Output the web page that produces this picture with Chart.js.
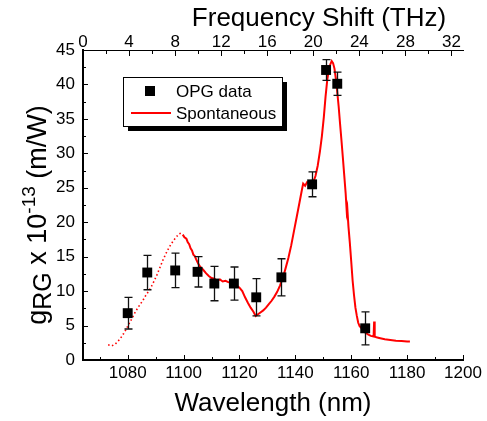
<!DOCTYPE html>
<html>
<head>
<meta charset="utf-8">
<script src="https://cdn.jsdelivr.net/npm/chart.js@4/dist/chart.umd.min.js"></script>
<style>
  html, body { margin: 0; padding: 0; background: #fff; }
  canvas { display: block; }
</style>
</head>
<body>
<canvas id="gainChart" width="487" height="421"></canvas>
<script>
// OPG measurements (wavelength in nm, gain x 1e-13 m/W, +/- error)
const opgWavelength = [1080, 1087, 1097, 1105, 1111, 1118, 1126, 1135, 1146, 1151, 1155, 1165];
const opgGain       = [6.8, 12.7, 13.0, 12.8, 11.1, 11.1, 9.1, 12.0, 25.5, 42.1, 40.1, 4.6];
const opgError      = [2.3, 2.5, 2.5, 2.2, 2.5, 2.4, 2.7, 2.7, 1.8, 1.5, 1.7, 2.4];

// spontaneous Raman gain curve
const spontWavelength = [
  1073.0, 1074.3, 1075.5, 1076.5, 1077.5, 1078.5, 1079.5, 1080.5, 1081.5, 1082.5,
  1083.5, 1084.5, 1085.5, 1086.5, 1087.5, 1088.5, 1089.5, 1090.5, 1091.5, 1092.5,
  1093.5, 1094.5, 1095.5, 1096.5, 1097.5, 1098.3, 1099.0, 1099.7, 1100.3, 1101.0,
  1101.5, 1102.0, 1102.5, 1103.0, 1103.5, 1104.0, 1104.5, 1105.0, 1105.5, 1106.0,
  1107.0, 1108.0, 1109.0, 1110.0, 1111.0, 1112.0, 1113.0, 1114.0, 1115.0, 1116.0,
  1117.0, 1118.0, 1119.0, 1120.0, 1121.0, 1122.0, 1123.0, 1124.0, 1125.0, 1125.8,
  1126.5, 1127.5, 1128.5, 1129.5, 1130.5, 1131.5, 1132.5, 1133.5, 1134.5, 1135.5,
  1136.5, 1137.5, 1138.5, 1139.5, 1140.5, 1141.5, 1142.3, 1142.8, 1143.5, 1144.2,
  1145.0, 1145.8, 1146.5, 1147.2, 1148.0, 1148.8, 1149.5, 1150.2, 1150.8, 1151.4,
  1152.0, 1152.5, 1153.0, 1153.5, 1154.0, 1154.5, 1155.0, 1155.5, 1156.0, 1156.5,
  1157.0, 1157.5, 1158.0, 1158.4, 1158.6, 1159.0, 1159.5, 1160.0, 1160.5, 1161.0,
  1161.5, 1162.0, 1162.5, 1163.0, 1164.0, 1165.0, 1166.0, 1167.0, 1168.0, 1168.2,
  1168.4, 1169.0, 1170.0, 1172.0, 1174.0, 1176.0, 1178.0, 1180.0, 1181.0
];
const spontGain = [
  2.2, 2.05, 2.3, 2.7, 3.2, 3.8, 4.5, 5.3, 6.0, 6.8,
  7.5, 8.1, 8.7, 9.4, 10.0, 10.7, 11.5, 12.4, 13.4, 14.4,
  15.3, 16.1, 16.8, 17.4, 17.9, 18.3, 18.4, 18.2, 17.8, 17.6,
  17.1, 16.8, 16.2, 15.9, 15.3, 15.1, 14.6, 14.2, 13.8, 13.5,
  13.1, 12.6, 12.2, 11.9, 11.8, 11.5, 11.7, 11.4, 11.5, 11.3,
  11.2, 11.1, 10.8, 10.5, 10.0, 9.1, 8.3, 7.6, 7.0, 6.4,
  6.6, 6.9, 7.2, 7.6, 8.1, 8.6, 9.2, 9.9, 10.8, 11.9,
  13.3, 14.8, 16.6, 18.7, 20.8, 22.9, 24.6, 25.6, 25.3, 25.8,
  25.6, 26.0, 25.9, 26.7, 28.2, 30.3, 32.5, 35.3, 38.2, 40.6,
  42.2, 42.9, 43.4, 43.1, 42.3, 40.8, 38.9, 36.8, 34.3, 31.9,
  29.4, 26.8, 24.2, 21.5, 22.0, 19.4, 17.0, 14.3, 11.5, 9.4,
  7.6, 6.4, 5.4, 4.9, 4.5, 4.0, 3.7, 3.5, 3.4, 5.6,
  3.4, 3.3, 3.2, 3.0, 2.9, 2.8, 2.75, 2.7, 2.7
];
const dottedBelow = 1099.7; // left part of the spontaneous curve is sparse/dotted

const FONT = '"Liberation Sans", Arial, sans-serif';

const decor = {
  id: 'decor',
  beforeDatasetDraw(chart, args) {
    if (args.index !== 0) return;
    const { ctx } = chart;
    const x = chart.scales.x, y = chart.scales.y;
    ctx.save();
    ctx.strokeStyle = '#111';
    ctx.lineWidth = 1.3;
    opgWavelength.forEach((w, i) => {
      const px = Math.round(x.getPixelForValue(w)) + 0.5;
      const top = y.getPixelForValue(opgGain[i] + opgError[i]);
      const bot = y.getPixelForValue(opgGain[i] - opgError[i]);
      ctx.beginPath();
      ctx.moveTo(px, top); ctx.lineTo(px, bot);
      ctx.moveTo(px - 4, top); ctx.lineTo(px + 4, top);
      ctx.moveTo(px - 4, bot); ctx.lineTo(px + 4, bot);
      ctx.stroke();
    });
    ctx.restore();
  },
  afterDraw(chart) {
    const { ctx, chartArea: a } = chart;
    const sx = chart.scales.x, sx2 = chart.scales.x2, sy = chart.scales.y;

    // inward ticks, major + minor
    ctx.save();
    ctx.strokeStyle = '#000';
    ctx.lineWidth = 1;
    ctx.beginPath();
    for (let v = 1070; v <= 1200; v += 10) {
      const p = Math.round(sx.getPixelForValue(v)) + 0.5;
      const len = v % 20 === 0 ? 5 : 3;
      ctx.moveTo(p, a.bottom); ctx.lineTo(p, a.bottom - len);
    }
    for (let v = 0; v <= 32; v += 2) {
      const p = Math.round(sx2.getPixelForValue(v)) + 0.5;
      const len = v % 4 === 0 ? 6 : 4;
      ctx.moveTo(p, a.top); ctx.lineTo(p, a.top + len);
    }
    for (let v = 2.5; v <= 45; v += 2.5) {
      const p = Math.round(sy.getPixelForValue(v)) + 0.5;
      const len = v % 5 === 0 ? 5 : 3;
      ctx.moveTo(a.left, p); ctx.lineTo(a.left + len, p);
    }
    ctx.stroke();

    // axis titles
    ctx.fillStyle = '#000';
    ctx.textBaseline = 'alphabetic';
    ctx.textAlign = 'center';
    ctx.font = '26px ' + FONT;
    ctx.fillText('Frequency Shift (THz)', a.left + 236, 26);
    ctx.fillText('Wavelength (nm)', (a.left + a.right) / 2, 411);

    // rotated y title with sub/superscript
    const parts = [
      { t: 'g', size: 27, dy: 0 },
      { t: 'RG', size: 25, dy: 5 },
      { t: ' x 10', size: 27, dy: 0 },
      { t: '-13', size: 19, dy: -11 },
      { t: ' (m/W)', size: 27, dy: 0 }
    ];
    let total = 0;
    parts.forEach(p => { ctx.font = p.size + 'px ' + FONT; p.w = ctx.measureText(p.t).width; total += p.w; });
    ctx.translate(46, 215);
    ctx.rotate(-Math.PI / 2);
    ctx.textAlign = 'left';
    let cx = -total / 2;
    parts.forEach(p => {
      ctx.font = p.size + 'px ' + FONT;
      ctx.fillText(p.t, cx, p.dy);
      cx += p.w;
    });
    ctx.restore();

    // legend box with drop shadow
    const bx = a.left + 40, by = a.top + 27, bw = 159, bh = 49;
    ctx.save();
    ctx.fillStyle = '#000';
    ctx.fillRect(bx + 5, by + 5, bw, bh);
    ctx.fillStyle = '#fff';
    ctx.fillRect(bx, by, bw, bh);
    ctx.strokeStyle = '#000';
    ctx.lineWidth = 1;
    ctx.strokeRect(bx + 0.5, by + 0.5, bw, bh);
    const ds = chart.data.datasets;
    ctx.fillStyle = ds[0].backgroundColor;
    ctx.fillRect(bx + 22, by + 9, 10, 10);
    ctx.strokeStyle = ds[1].borderColor;
    ctx.lineWidth = 2;
    ctx.beginPath();
    ctx.moveTo(bx + 8, by + 36); ctx.lineTo(bx + 48, by + 36);
    ctx.stroke();
    ctx.fillStyle = '#000';
    ctx.font = '17px ' + FONT;
    ctx.textBaseline = 'middle';
    ctx.textAlign = 'left';
    ctx.fillText(ds[0].label, bx + 53, by + 15);
    ctx.fillText(ds[1].label, bx + 53, by + 37);
    ctx.restore();
  }
};

const plainTick = v => String(v);

const ctx = document.getElementById('gainChart').getContext('2d');

new Chart(ctx, {
  type: 'scatter',
  data: {
    datasets: [{
      label: 'OPG data',
      data: opgWavelength.map((w, i) => ({ x: w, y: opgGain[i] })),
      xAxisID: 'x',
      yAxisID: 'y',
      backgroundColor: '#000',
      borderWidth: 0,
      pointStyle: 'rect',
      pointRadius: 7,
      showLine: false
    }, {
      label: 'Spontaneous',
      type: 'line',
      data: spontWavelength.map((w, i) => ({ x: w, y: spontGain[i] })),
      xAxisID: 'x',
      yAxisID: 'y',
      borderColor: '#ff0000',
      borderWidth: 2,
      pointRadius: 0,
      tension: 0,
      fill: false,
      segment: {
        borderDash: c => c.p1.parsed.x <= dottedBelow ? [1.5, 2.5] : undefined,
        borderWidth: c => c.p1.parsed.x <= dottedBelow ? 1.6 : 2
      }
    }]
  },
  options: {
    responsive: false,
    animation: false,
    devicePixelRatio: 1,
    layout: { padding: { left: 0, right: 24, top: 0, bottom: 0 } },
    plugins: {
      legend: { display: false },
      tooltip: { enabled: false }
    },
    scales: {
      x: {
        type: 'linear',
        position: 'bottom',
        min: 1064,
        max: 1200,
        grid: { display: false, drawTicks: false },
        border: { display: true, color: '#000', width: 2 },
        ticks: {
          stepSize: 20,
          includeBounds: false,
          padding: 3,
          maxRotation: 0,
          color: '#000',
          font: { family: FONT, size: 17 },
          callback: plainTick
        },
        afterFit: s => { s.height = 61; }
      },
      x2: {
        type: 'linear',
        position: 'top',
        min: 0,
        max: 33,
        grid: { display: false, drawTicks: false },
        border: { display: true, color: '#000', width: 1 },
        ticks: {
          stepSize: 4,
          includeBounds: false,
          padding: -3,
          maxRotation: 0,
          color: '#000',
          font: { family: FONT, size: 17 },
          callback: plainTick
        },
        afterFit: s => { s.height = 50; }
      },
      y: {
        type: 'linear',
        position: 'left',
        min: 0,
        max: 45,
        grid: { display: false, drawTicks: false },
        border: { display: true, color: '#000', width: 2 },
        ticks: {
          stepSize: 5,
          padding: 8,
          color: '#000',
          font: { family: FONT, size: 17 },
          callback: plainTick
        },
        afterFit: s => { s.width = 83; }
      }
    }
  },
  plugins: [decor]
});
</script>
</body>
</html>
